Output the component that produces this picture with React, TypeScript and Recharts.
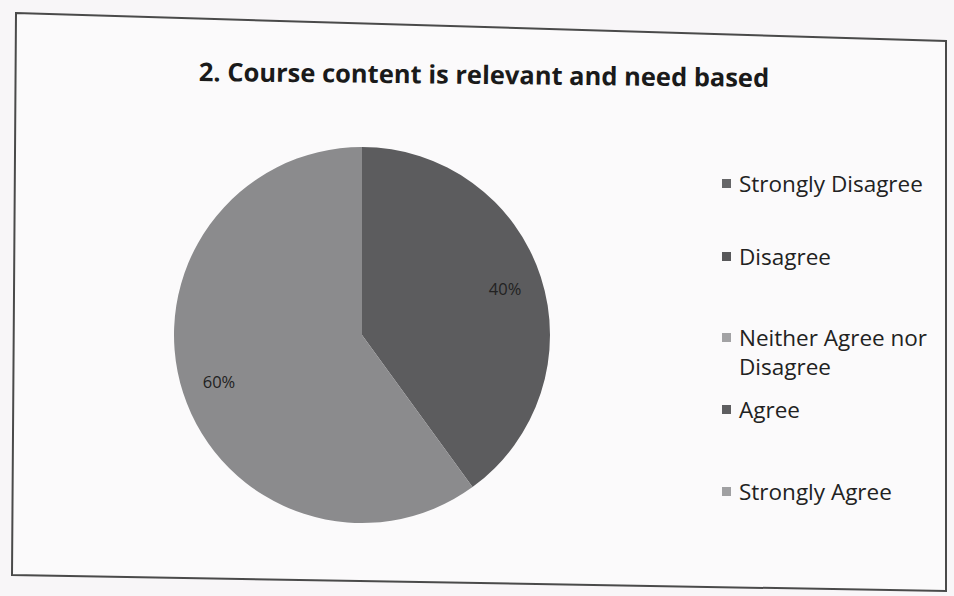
import React from "react";
import { PieChart, Pie, Cell, Legend } from "recharts";

const categories = [
  "Strongly Disagree",
  "Disagree",
  "Neither Agree nor Disagree",
  "Agree",
  "Strongly Agree",
];
const percentages = [0, 0, 0, 40, 60];
const colors = ["#58585a", "#555557", "#9a9a9c", "#5c5c5e", "#8b8b8d"];
const legendColors = ["#666668", "#58585a", "#a2a2a4", "#5e5e60", "#a0a0a2"];
const title = "2. Course content is relevant and need based";

const data = categories.map((name, i) => ({ name, value: percentages[i] }));

const RAD = Math.PI / 180;
const legendGaps = [0, 44, 52, 14, 53];

const renderLabel = (props: any) => {
  const { cx, cy, midAngle, outerRadius, value } = props;
  if (!value) return null;
  const r = outerRadius * 0.8;
  const x = cx + r * Math.cos(-midAngle * RAD);
  const y = cy + r * Math.sin(-midAngle * RAD);
  return (
    <text
      x={x}
      y={y}
      textAnchor="middle"
      dominantBaseline="central"
      fill="#222"
      fontSize={16.5}
      fontFamily="'Open Sans', sans-serif"
    >
      {`${value}%`}
    </text>
  );
};

const renderLegend = () => (
  <div
    style={{
      display: "flex",
      flexDirection: "column",
      fontFamily: "'Open Sans', sans-serif",
      fontSize: 22.5,
      lineHeight: "29px",
      color: "#222",
    }}
  >
    {categories.map((c, i) => (
      <div
        key={c}
        style={{ display: "flex", alignItems: "flex-start", marginTop: legendGaps[i] }}
      >
        <span
          style={{
            display: "inline-block",
            width: 9,
            height: 9,
            background: legendColors[i],
            marginTop: 10,
            marginRight: 8,
            flex: "0 0 auto",
          }}
        />
        <span style={{ width: 215 }}>{c}</span>
      </div>
    ))}
  </div>
);

export default function App() {
  return (
    <div
      style={{
        position: "absolute",
        left: 0,
        top: 0,
        width: 954,
        height: 596,
        background: "#f8f6f8",
        overflow: "hidden",
      }}
    >
      <svg
        width={954}
        height={596}
        style={{ position: "absolute", left: 0, top: 0 }}
      >
        <polygon
          points="16,13 946,41 946,591 12,575"
          fill="#fbfafb"
          stroke="#4a4a4a"
          strokeWidth={2}
        />
      </svg>
      <div
        style={{
          position: "absolute",
          left: 0,
          top: 57,
          width: 968,
          textAlign: "center",
          fontFamily: "'Open Sans', sans-serif",
          fontWeight: 700,
          fontSize: 25.5,
          color: "#1a1a1a",
          transform: "rotate(0.6deg)",
        }}
      >
        {title}
      </div>
      <div style={{ position: "absolute", left: 0, top: 0 }}>
        <PieChart width={954} height={596}>
          <Pie
            data={data}
            dataKey="value"
            nameKey="name"
            cx={357}
            cy={330}
            outerRadius={188}
            startAngle={90}
            endAngle={-270}
            stroke="none"
            label={renderLabel}
            labelLine={false}
            isAnimationActive={false}
          >
            {data.map((d, i) => (
              <Cell key={d.name} fill={colors[i]} />
            ))}
          </Pie>
          <Legend
            layout="vertical"
            align="right"
            verticalAlign="top"
            content={renderLegend}
            wrapperStyle={{ left: 722, top: 169, width: 232, height: 350 }}
          />
        </PieChart>
      </div>
    </div>
  );
}
